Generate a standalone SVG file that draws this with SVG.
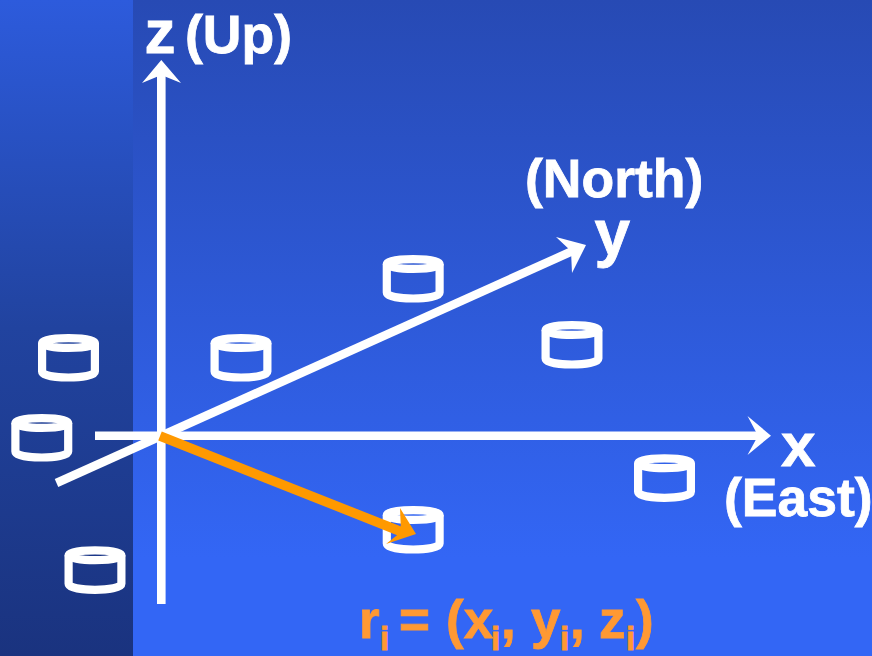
<svg xmlns="http://www.w3.org/2000/svg" xmlns:xlink="http://www.w3.org/1999/xlink" width="872" height="656" viewBox="0 0 872 656">
<style>
.cyl{fill:none;stroke:#fff;stroke-width:8.2;stroke-linejoin:round}
.ax{stroke:#fff;stroke-width:8.6;fill:none}
.head{fill:#fff}
text{font-family:"Liberation Sans",Arial,sans-serif;font-weight:700;fill:#fff;stroke:#fff;stroke-width:.8px}
.or{fill:#ff9933;stroke:#ff9933;font-size:53px}
.sub{font-size:33px}
</style>
<defs>
<linearGradient id="gl" x1="0" y1="0" x2="0" y2="1"><stop offset="0" stop-color="#2d5bdc"/><stop offset="0.5" stop-color="#21439f"/><stop offset="1" stop-color="#1a337f"/></linearGradient>
<linearGradient id="gr" x1="0" y1="0" x2="0" y2="1"><stop offset="0" stop-color="#274ab4"/><stop offset="0.85" stop-color="#3366f5"/><stop offset="1" stop-color="#3366f5"/></linearGradient>
<g id="cyl"><ellipse class="cyl" cx="30.500" cy="9" rx="26.400" ry="4.900"/><path class="cyl" d="M4.100 9V37.500C4.100 45.500 56.900 45.500 56.900 37.500V9"/></g>
</defs>
<rect id="bg-left" width="133" height="656" fill="url(#gl)"/>
<rect id="bg-right" x="133" width="739" height="656" fill="url(#gr)"/>
<g id="nodes">
<use id="n1" xlink:href="#cyl" href="#cyl" x="38" y="334"/>
<use id="n2" xlink:href="#cyl" href="#cyl" x="210.500" y="334"/>
<use id="n3" xlink:href="#cyl" href="#cyl" x="11.300" y="414"/>
<use id="n4" xlink:href="#cyl" href="#cyl" x="64.500" y="546.300"/>
<use id="n5" xlink:href="#cyl" href="#cyl" x="382.700" y="255"/>
<use id="n6" xlink:href="#cyl" href="#cyl" x="541.500" y="321"/>
<use id="n7" xlink:href="#cyl" href="#cyl" x="634" y="454.300"/>
<use id="n8" xlink:href="#cyl" href="#cyl" x="382.700" y="506"/>
</g>
<g id="connectors">
<path class="ax" d="M161.300 604V70"/><path class="head" d="M161.300 60L181 83L161.300 75L142 83Z"/>
<path class="ax" d="M95 435.700H762"/><path class="head" d="M771 435.700L747.500 416L758 435.700L747.500 455Z"/>
<path class="ax" d="M56.500 483L577 249"/><path class="head" d="M586 245L556 237L571 251L572 273Z"/>
<path d="M160 436L402 532" stroke="#ff9900" stroke-width="9.500" fill="none"/><path d="M416 534L400 508L401 532L386 544Z" fill="#ff9900"/>
</g>
<g id="labels">
<text x="144.500" y="53" font-size="62">z</text>
<text x="185" y="53" font-size="53.500">(Up)</text>
<text x="525" y="197" font-size="53.500">(North)</text>
<text x="594.500" y="255" font-size="64">y</text>
<text x="781" y="466" font-size="62">x</text>
<text x="724" y="516" font-size="53.500">(East)</text>
<text class="or" x="359" y="638">r</text><text class="or sub" x="380" y="650">i</text>
<text class="or" x="399" y="638">=</text>
<text class="or" x="446" y="638">(x</text><text class="or sub" x="491" y="650">i</text>
<text class="or" x="501" y="638">,</text>
<text class="or" x="531" y="638">y</text><text class="or sub" x="560" y="650">i</text>
<text class="or" x="570" y="638">,</text>
<text class="or" x="599" y="638">z</text><text class="or sub" x="626" y="650">i</text>
<text class="or" x="636" y="638">)</text>
</g>
</svg>
